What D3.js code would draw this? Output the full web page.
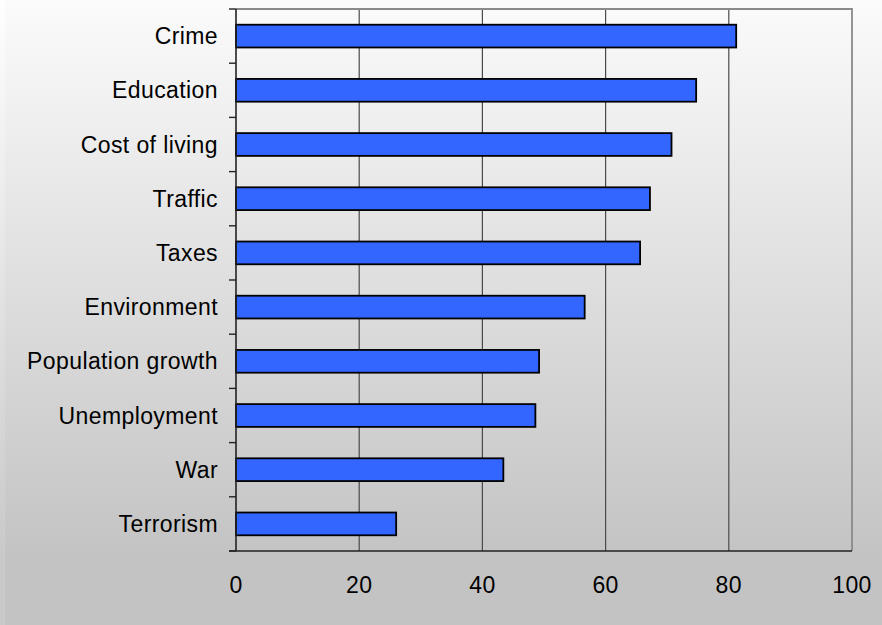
<!DOCTYPE html>
<html>
<head>
<meta charset="utf-8">
<script src="https://cdn.jsdelivr.net/npm/d3@7"></script>
<style>
  html, body { margin: 0; padding: 0; background: #ffffff; }
  svg { display: block; }
  text { font-family: "Liberation Sans", Arial, sans-serif; fill: #000; }
</style>
</head>
<body>
<svg id="chart" width="882" height="625"></svg>
<script>
// Concerns, ranked by share of respondents (%)
const categories = ["Crime", "Education", "Cost of living", "Traffic", "Taxes",
  "Environment", "Population growth", "Unemployment", "War", "Terrorism"];
const values = [81.2, 74.7, 70.7, 67.2, 65.6, 56.6, 49.2, 48.6, 43.4, 26.0];
const xTicks = [0, 20, 40, 60, 80, 100];

const W = 882, H = 625;
const plot = { left: 236, right: 852, top: 9, bottom: 551 };

const svg = d3.select("#chart");
const defs = svg.append("defs");

// Background: light grey vertical gradient
const grad = defs.append("linearGradient")
  .attr("id", "bg").attr("gradientUnits", "userSpaceOnUse")
  .attr("x1", 0).attr("y1", 0).attr("x2", 0).attr("y2", 560);
grad.append("stop").attr("offset", 0).attr("stop-color", "#fbfbfb");
grad.append("stop").attr("offset", 1).attr("stop-color", "#c3c3c3");

const gradEdge = defs.append("linearGradient")
  .attr("id", "bgEdge").attr("gradientUnits", "userSpaceOnUse")
  .attr("x1", 0).attr("y1", 0).attr("x2", 0).attr("y2", 560);
gradEdge.append("stop").attr("offset", 0).attr("stop-color", "#ffffff");
gradEdge.append("stop").attr("offset", 1).attr("stop-color", "#c9c9c9");

svg.append("rect").attr("x", 0).attr("y", 0).attr("width", 5).attr("height", H)
  .attr("fill", "url(#bgEdge)");
svg.append("rect").attr("x", 5).attr("y", 0).attr("width", W - 5).attr("height", H)
  .attr("fill", "url(#bg)");

// Scales
const x = d3.scaleLinear().domain([0, 100]).range([plot.left, plot.right]);
const y = d3.scaleBand().domain(categories)
  .range([plot.top, plot.bottom])
  .paddingInner(0.58).paddingOuter(0.29);
const yEdges = d3.scaleBand().domain(categories).range([plot.top, plot.bottom]).padding(0);

// Vertical gridlines
svg.append("g").selectAll("line")
  .data(xTicks.filter(t => t > 0 && t < 100))
  .join("line")
  .attr("x1", d => x(d)).attr("x2", d => x(d))
  .attr("y1", plot.top).attr("y2", plot.bottom)
  .attr("stroke", "#4a4a4a").attr("stroke-width", 1.2);

// Plot border (top and right)
svg.append("path")
  .attr("d", `M${plot.left},${plot.top}H${plot.right}V${plot.bottom}`)
  .attr("fill", "none").attr("stroke", "#8a8a8a").attr("stroke-width", 1.8);

// Bars
svg.append("g").selectAll("rect")
  .data(categories.map((c, i) => ({ c, v: values[i] })))
  .join("rect")
  .attr("x", x(0))
  .attr("y", d => y(d.c))
  .attr("width", d => x(d.v) - x(0))
  .attr("height", y.bandwidth())
  .attr("fill", "#3366ff")
  .attr("stroke", "#000").attr("stroke-width", 1.8);

// Y axis: line plus tick marks at category boundaries
const boundaries = categories.map(c => yEdges(c)).concat([plot.bottom]);
const yAxis = svg.append("g");
yAxis.append("line")
  .attr("x1", plot.left).attr("x2", plot.left)
  .attr("y1", plot.top).attr("y2", plot.bottom)
  .attr("stroke", "#222").attr("stroke-width", 1.6);
yAxis.selectAll("line.tick").data(boundaries).join("line")
  .attr("class", "tick")
  .attr("x1", plot.left - 7).attr("x2", plot.left)
  .attr("y1", d => d).attr("y2", d => d)
  .attr("stroke", "#222").attr("stroke-width", 1.4);
yAxis.selectAll("text").data(categories).join("text")
  .attr("x", 218)
  .attr("y", d => yEdges(d) + yEdges.bandwidth() / 2)
  .attr("dy", "0.35em")
  .attr("text-anchor", "end")
  .style("font-size", "23px")
  .style("letter-spacing", "0.4px")
  .text(d => d);

// X axis: baseline and labels
const xAxis = svg.append("g");
xAxis.append("line")
  .attr("x1", plot.left - 7).attr("x2", plot.right)
  .attr("y1", plot.bottom).attr("y2", plot.bottom)
  .attr("stroke", "#222").attr("stroke-width", 1.6);
xAxis.selectAll("text").data(xTicks).join("text")
  .attr("x", d => x(d))
  .attr("y", 585)
  .attr("dy", "0.35em")
  .attr("text-anchor", "middle")
  .style("font-size", "23px")
  .style("letter-spacing", "0.4px")
  .text(d => d);
</script>
</body>
</html>
